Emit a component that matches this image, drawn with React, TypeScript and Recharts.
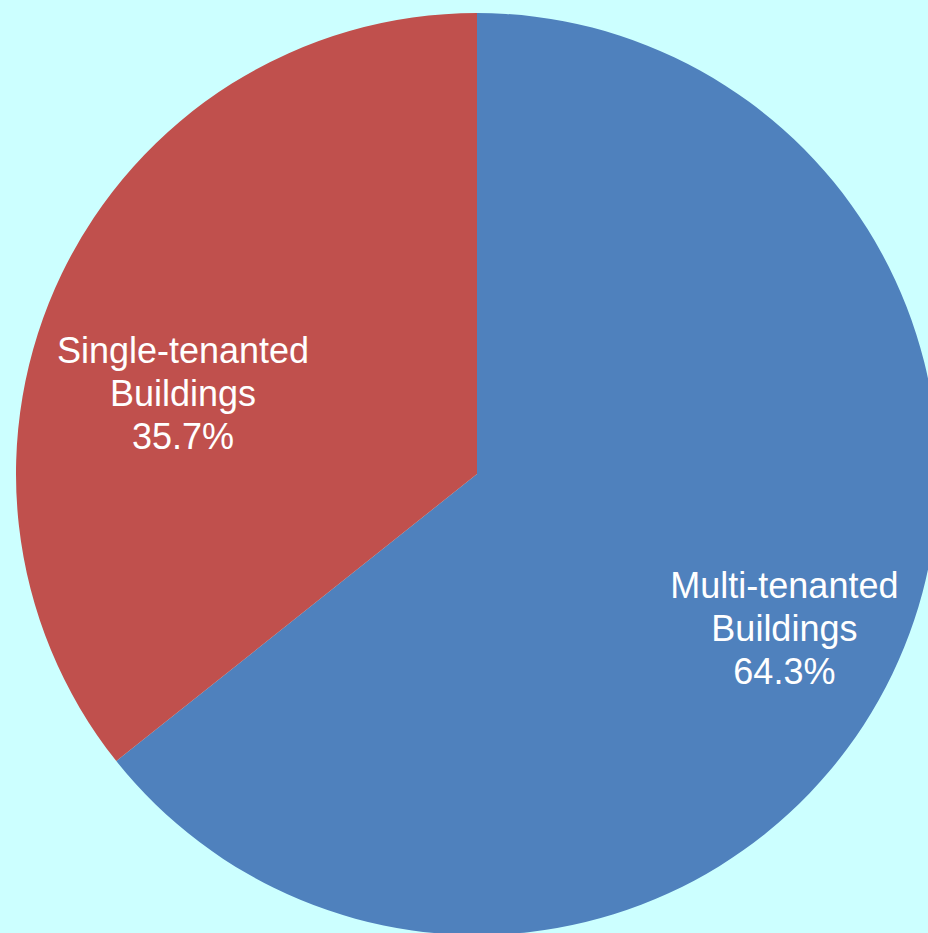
import { Cell, Pie, PieChart } from "recharts";

const categories = ["Multi-tenanted Buildings", "Single-tenanted Buildings"];
const shares = [64.3, 35.7];
const colors = ["#4F81BD", "#C0504D"];

const data = categories.map((name, i) => ({ name, value: shares[i] }));

const RAD = Math.PI / 180;
// Excel "best fit" moved the small slice's label a little off its mid angle
const labelPlacement: Record<string, { r: number; turn: number }> = {
  "Multi-tenanted Buildings": { r: 0.746, turn: -0.9 },
  "Single-tenanted Buildings": { r: 0.661, turn: 10.5 },
};

function renderLabel(props: any) {
  const { cx, cy, midAngle, outerRadius, name, percent } = props;
  const place = labelPlacement[name] ?? { r: 0.7, turn: 0 };
  const angle = midAngle + place.turn;
  const r = outerRadius * place.r;
  const x = cx + r * Math.cos(-angle * RAD);
  const y = cy + r * Math.sin(-angle * RAD);
  const [first, second] = name.split(" ");
  const lines = [first, second, `${(percent * 100).toFixed(1)}%`];
  return (
    <text
      x={x}
      y={y}
      fill="#ffffff"
      textAnchor="middle"
      fontFamily="'Liberation Sans', Arial, sans-serif"
      fontSize={36}
    >
      {lines.map((line, i) => (
        <tspan key={i} x={x} y={y + (i - 1) * 43} dominantBaseline="central">
          {line}
        </tspan>
      ))}
    </text>
  );
}

export default function App() {
  return (
    <div
      style={{
        position: "absolute",
        left: 0,
        top: 0,
        width: 928,
        height: 933,
        background: "#CCFFFF",
        overflow: "hidden",
      }}
    >
      <PieChart width={928} height={933} margin={{ top: 0, right: 0, bottom: 0, left: 0 }}>
        <Pie
          data={data}
          dataKey="value"
          nameKey="name"
          cx={477}
          cy={474}
          outerRadius={461}
          startAngle={90}
          endAngle={-270}
          stroke="none"
          label={renderLabel}
          labelLine={false}
          isAnimationActive={false}
        >
          {data.map((d, i) => (
            <Cell key={d.name} fill={colors[i]} />
          ))}
        </Pie>
      </PieChart>
    </div>
  );
}
